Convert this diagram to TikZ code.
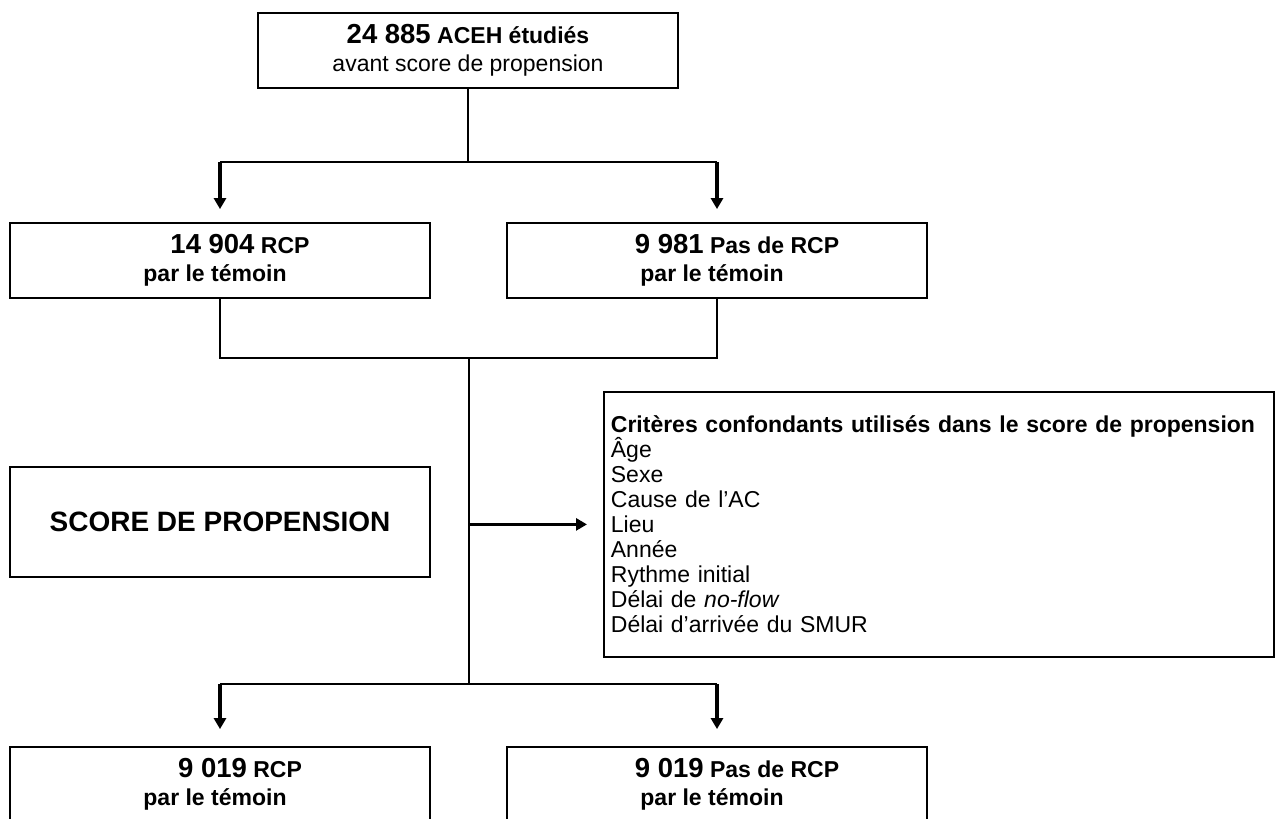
\documentclass[tikz,border=0pt]{standalone}
\usepackage{fontspec}
\setmainfont{Liberation Sans}
\usetikzlibrary{arrows.meta}

\newcommand{\effectif}[1]{{\fontsize{13.75}{14}\selectfont #1}}
\hyphenpenalty=10000

\begin{document}
\begin{tikzpicture}[x=0.5pt,y=-0.5pt,
  box/.style={draw, line width=0.9pt, minimum width=210pt, minimum height=37.5pt,
    inner sep=0pt, align=center, font=\bfseries\fontsize{11.5}{14}\selectfont},
  link/.style={line width=1pt},
  pointer/.style={line width=1.6pt, -{Triangle[width=6pt,length=5.5pt]}}]

  \clip (0,0) rectangle (1276,819);
  \fill[white] (0,0) rectangle (1276,819);

  % population initiale
  \node[box] (aceh) at (468,50.5)
    {\effectif{24 885} ACEH étudiés\\ {\mdseries avant score de propension}};

  % deux groupes avant appariement
  \node[box] (rcp) at (220,260.5)
    {\hspace*{20pt}\effectif{14 904} RCP\\ par le témoin\hspace*{5pt}};
  \node[box] (norcp) at (717,260.5)
    {\hspace*{20pt}\effectif{9 981} Pas de RCP\\ par le témoin\hspace*{5pt}};

  % score
  \node[box, minimum height=55pt, font=\bfseries\fontsize{14}{16}\selectfont] (score)
    at (220,522) {SCORE DE PROPENSION};

  % criteres
  \node[draw, line width=0.9pt, anchor=north west, text width=328pt,
    minimum height=132.5pt, inner xsep=3.5pt, inner ysep=0pt, align=left,
    font=\fontsize{11.5}{12.5}\selectfont] (crit) at (603,391)
    {\textbf{Critères confondants utilisés dans le score de propension}\\
     Âge\\ Sexe\\ Cause de l’AC\\ Lieu\\ Année\\ Rythme initial\\
     Délai de \textit{no-flow}\\ Délai d’arrivée du SMUR};

  % deux groupes apres appariement
  \node[box] (rcpsp) at (220,784.5)
    {\hspace*{20pt}\effectif{9 019} RCP\\ par le témoin\hspace*{5pt}};
  \node[box] (norcpsp) at (717,784.5)
    {\hspace*{20pt}\effectif{9 019} Pas de RCP\\ par le témoin\hspace*{5pt}};

  % points de jonction
  \coordinate (split) at (468,162);
  \coordinate (merge) at (469,358);
  \coordinate (resplit) at (469,684);

  % liens
  \draw[link] (aceh.south) -- (split);
  \draw[link] (rcp.north |- split) -- (norcp.north |- split);
  \draw[pointer, shorten >=6.5pt] (rcp.north |- split) -- (rcp.north);
  \draw[pointer, shorten >=6.5pt] (norcp.north |- split) -- (norcp.north);

  \draw[link] (rcp.south) |- (merge) -| (norcp.south);
  \draw[link] (merge) -- (resplit);
  \draw[pointer, shorten >=8pt] (merge |- crit.west) -- (crit.west);

  \draw[link] (rcpsp.north |- resplit) -- (norcpsp.north |- resplit);
  \draw[pointer, shorten >=8.5pt] (rcpsp.north |- resplit) -- (rcpsp.north);
  \draw[pointer, shorten >=8.5pt] (norcpsp.north |- resplit) -- (norcpsp.north);

\end{tikzpicture}
\end{document}
